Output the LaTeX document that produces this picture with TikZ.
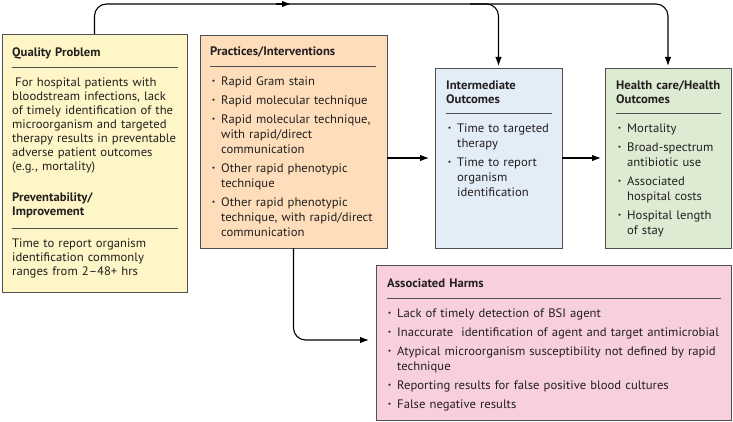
\documentclass[tikz,border=0pt]{standalone}
\usepackage{fontspec}
\setmainfont{PT Sans}[FakeStretch=1.03]
\usepackage{graphicx}
\usetikzlibrary{arrows.meta}
\definecolor{cyel}{HTML}{FEF6C6}
\definecolor{cora}{HTML}{FDDDBA}
\definecolor{cblu}{HTML}{E2EDF7}
\definecolor{cgrn}{HTML}{DDEBD3}
\definecolor{cpnk}{HTML}{F7D0DC}
\definecolor{cborder}{HTML}{505050}
\definecolor{ctext}{HTML}{231F20}
\newcommand{\fl}{\rule{0pt}{10pt}}
\newcommand{\bul}{\leavevmode\llap{\raisebox{0.3ex}{\scalebox{0.6}{\textbullet}}\hspace{6pt}}}
\begin{document}
\begin{tikzpicture}[x=1pt,y=-1pt,
  box/.style={draw=cborder, line width=0.7pt, anchor=north west, inner sep=0pt, outer sep=0pt},
  ttl/.style={anchor=north west, inner sep=0pt, align=left, text width=220pt, text=ctext,
    font=\fontsize{12.3}{14.5}\selectfont\bfseries},
  para/.style={anchor=north west, inner sep=0pt, align=left, text width=220pt, text=ctext,
    font=\fontsize{12.3}{14}\selectfont},
  blist/.style={anchor=north west, inner sep=0pt, align=left, text width=360pt, text=ctext,
    font=\fontsize{12.3}{15}\selectfont\setlength{\parskip}{4pt}},
  hrule/.style={draw=cborder, line width=0.6pt},
  conn/.style={draw=black, line width=1.1pt, rounded corners=12pt},
  tip/.style={-{Latex[length=9pt,width=6.5pt]}}
]
\useasboundingbox (0,0) rectangle (733,422);

% boxes
\node[box, fill=cyel, minimum width=185pt, minimum height=258pt] (qp) at (2,34) {};
\node[box, fill=cora, minimum width=187pt, minimum height=213pt] (pr) at (200,35) {};
\node[box, fill=cblu, minimum width=127pt, minimum height=180pt] (io) at (435,68) {};
\node[box, fill=cgrn, minimum width=126pt, minimum height=180pt] (hc) at (605,68) {};
\node[box, fill=cpnk, minimum width=355pt, minimum height=155pt] (hr) at (376,265) {};

% Quality problem
\node[ttl] (qpt) at (12,46) {\fl Quality Problem};
\draw[hrule] (12,67) -- (178,67);
\node[para] (qpb) at (12,76) {\fl\hspace{3pt}For hospital patients with\\bloodstream infections, lack\\of timely identification of the\\microorganism and targeted\\therapy results in preventable\\adverse patient outcomes\\(e.g., mortality)};
\node[ttl] (pvt) at (12,191) {\fl Preventability/\\Improvement};
\draw[hrule] (12,228) -- (178,228);
\node[para] (pvb) at (12,237) {\fl Time to report organism\\identification commonly\\ranges from 2–48+ hrs};

% Practices
\node[ttl] (prt) at (210,45) {\fl Practices/Interventions};
\draw[hrule] (210,66) -- (376,66);
\node[blist] (prb) at (221,75) {\fl\bul Rapid Gram stain\par
\bul Rapid molecular technique\par
\bul Rapid molecular technique,\\with rapid/direct\\communication\par
\bul Other rapid phenotypic\\technique\par
\bul Other rapid phenotypic\\technique, with rapid/direct\\communication};

% Intermediate
\node[ttl] (iot) at (446,79) {\fl Intermediate\\Outcomes};
\draw[hrule] (446,113) -- (552,113);
\node[blist] (iob) at (457,122) {\fl\bul Time to targeted\\therapy\par
\bul Time to report\\organism\\identification};

% Health care
\node[ttl] (hct) at (616,79) {\fl Health care/Health\\Outcomes};
\draw[hrule] (616,113) -- (721,113);
\node[blist] (hcb) at (627,122) {\fl\bul Mortality\par
\bul Broad-spectrum\\antibiotic use\par
\bul Associated\\hospital costs\par
\bul Hospital length\\of stay};

% Harms
\node[ttl] (hrt) at (387,277) {\fl Associated Harms};
\draw[hrule] (387,298) -- (721,298);
\node[blist] (hrb) at (397,307) {\fl\bul Lack of timely detection of BSI agent\par
\bul Inaccurate\ \ identification of agent and target antimicrobial\par
\bul Atypical microorganism susceptibility not defined by rapid\\technique\par
\bul Reporting results for false positive blood cultures\par
\bul False negative results};

% connectors
\coordinate (ytop) at (0,4);
\coordinate (ymid) at (0,158);
\coordinate (yharm) at (0,340);
\coordinate (br) at (470,4);
\coordinate (ma) at (276,4);
\coordinate (mb) at (291,4);
\draw[conn, tip, shorten >=2pt] (qp.north) |- (ytop -| hc.north) -- (hc.north);
\draw[conn, tip, shorten >=2pt] (br) -| (io.north);
\draw[conn, tip] (ma) -- (mb);
\draw[conn, tip, shorten >=6pt] (pr.east |- ymid) -- (io.west |- ymid);
\draw[conn, tip, shorten >=4pt] (io.east |- ymid) -- (hc.west |- ymid);
\draw[conn, tip, shorten >=7pt] (pr.south) |- (hr.west |- yharm);
\end{tikzpicture}
\end{document}
